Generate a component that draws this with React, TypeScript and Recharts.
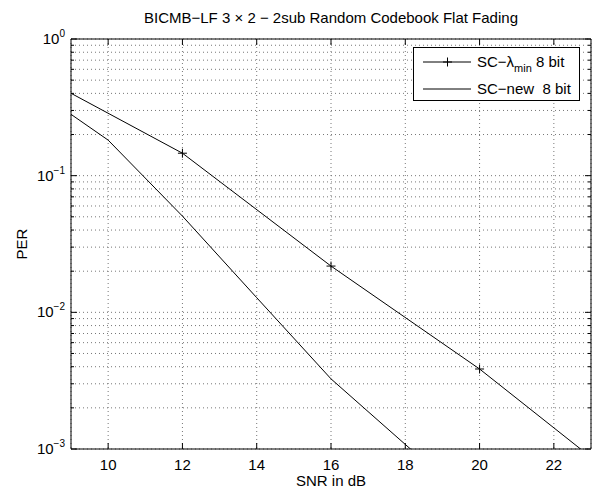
import React from 'react'
import { LineChart, Line, XAxis, YAxis, CartesianGrid, Legend, ReferenceArea } from 'recharts'

// SC-lambda_min 8 bit (markers every 4 dB)
const snrLambda = [8, 12, 16, 20, 24]
const perLambda = [0.561, 0.146, 0.0218, 0.00385, 0.00053]

// SC-new 8 bit
const snrNew = [8, 10, 12, 14, 16, 18, 20]
const perNew = [0.434, 0.182, 0.0506, 0.0128, 0.00326, 0.00108, 0.00036]

const xTicks = [10, 12, 14, 16, 18, 20, 22]
const decades = [0.001, 0.01, 0.1, 1]
const minorSteps = [2, 3, 4, 5, 6, 7, 8, 9]

const title = 'BICMB\u2212LF 3 \u00d7 2 \u2212 2sub Random Codebook Flat Fading'
const xLabel = 'SNR in dB'
const yLabel = 'PER'

const W = 610
const H = 491
const PLOT_W = 520
const PLOT_H = 410
const FONT = '"Liberation Sans", Arial, Helvetica, sans-serif'

const lambdaData = snrLambda.map((snr, i) => ({ snr, per: perLambda[i] }))
const newData = snrNew.map((snr, i) => ({ snr, per: perNew[i] }))

const yTicks = [
  ...decades,
  ...decades.slice(0, -1).flatMap(d => minorSteps.map(m => d * m)),
].sort((a, b) => a - b)

function XTick({ x, y, payload }: any) {
  return (
    <g>
      <line x1={x} x2={x} y1={y} y2={y - 6} stroke="#000" />
      <line x1={x} x2={x} y1={y - PLOT_H} y2={y - PLOT_H + 6} stroke="#000" />
      <text x={x} y={y + 21} textAnchor="middle" fontSize={15} fill="#000">
        {payload.value}
      </text>
    </g>
  )
}

function YTick({ x, y, payload }: any) {
  const v = payload.value
  const major = decades.includes(v)
  const len = major ? 6 : 3
  return (
    <g>
      <line x1={x} x2={x + len} y1={y} y2={y} stroke="#000" />
      <line x1={x + PLOT_W} x2={x + PLOT_W - len} y1={y} y2={y} stroke="#000" />
      {major && (
        <text x={x - 6} y={y + 5} textAnchor="end" fontSize={15} fill="#000">
          10
          <tspan dy={-7} fontSize={10}>
            {Math.round(Math.log10(v)).toString().replace('-', '\u2212')}
          </tspan>
        </text>
      )}
    </g>
  )
}

function PlusDot({ cx, cy, payload }: any) {
  if (payload.snr < 9 || payload.snr > 23) return <g />
  return (
    <path
      d={`M${cx - 4.5},${cy}H${cx + 4.5}M${cx},${cy - 4.5}V${cy + 4.5}`}
      stroke="#000"
      strokeWidth={1}
      fill="none"
    />
  )
}

function LegendBox() {
  return (
    <svg width={167} height={54} style={{ display: 'block', fontFamily: FONT }}>
      <rect x={0.5} y={0.5} width={166} height={53} fill="#fff" stroke="#000" />
      <line x1={10} x2={58} y1={15} y2={15} stroke="#000" />
      <path d="M30,15H39M34.5,10.5V19.5" stroke="#000" />
      <text x={64} y={20} fontSize={15} fill="#000">
        SC{'\u2212'}{'\u03bb'}
        <tspan dy={5} fontSize={11}>min</tspan>
        <tspan dy={-5} style={{ whiteSpace: 'pre' }}> 8 bit</tspan>
      </text>
      <line x1={10} x2={58} y1={42} y2={42} stroke="#000" />
      <text x={64} y={47} fontSize={15} fill="#000" style={{ whiteSpace: 'pre' }}>
        {'SC\u2212new  8 bit'}
      </text>
    </svg>
  )
}

export default function App() {
  return (
    <div style={{ position: 'absolute', left: 0, top: 0, width: W, height: H, background: '#fff', fontFamily: FONT }}>
      <LineChart
        width={W}
        height={H}
        margin={{ top: 39, right: 19, left: 0, bottom: 0 }}
        style={{ fontFamily: FONT }}
      >
        <CartesianGrid stroke="#777" strokeDasharray="1 3" />
        <XAxis
          dataKey="snr"
          type="number"
          domain={[9, 23]}
          ticks={xTicks}
          interval={0}
          allowDataOverflow
          height={42}
          tickSize={0}
          tickMargin={0}
          axisLine={false}
          tickLine={false}
          tick={<XTick />}
        />
        <YAxis
          type="number"
          scale="log"
          domain={[0.001, 1]}
          ticks={yTicks}
          interval={0}
          allowDataOverflow
          width={71}
          tickSize={0}
          tickMargin={0}
          axisLine={false}
          tickLine={false}
          tick={<YTick />}
        />
        <ReferenceArea x1={9} x2={23} y1={0.001} y2={1} fill="none" stroke="#000" strokeWidth={1} />
        <Line
          data={lambdaData}
          dataKey="per"
          name={'SC\u2212\u03bbmin 8 bit'}
          stroke="#000"
          strokeWidth={1}
          dot={<PlusDot />}
          activeDot={false}
          isAnimationActive={false}
        />
        <Line
          data={newData}
          dataKey="per"
          name={'SC\u2212new  8 bit'}
          stroke="#000"
          strokeWidth={1}
          dot={false}
          activeDot={false}
          isAnimationActive={false}
        />
        <Legend
          layout="vertical"
          align="center"
          verticalAlign="middle"
          wrapperStyle={{ position: 'absolute', left: 413, top: 47, width: 167, height: 54 }}
          content={() => <LegendBox />}
        />
        <text x={331} y={23} textAnchor="middle" fontSize={15} fill="#000">
          {title}
        </text>
        <text x={331} y={486} textAnchor="middle" fontSize={15} fill="#000">
          {xLabel}
        </text>
        <text x={27} y={244} textAnchor="middle" fontSize={15} fill="#000" transform="rotate(-90 27 244)">
          {yLabel}
        </text>
      </LineChart>
    </div>
  )
}
